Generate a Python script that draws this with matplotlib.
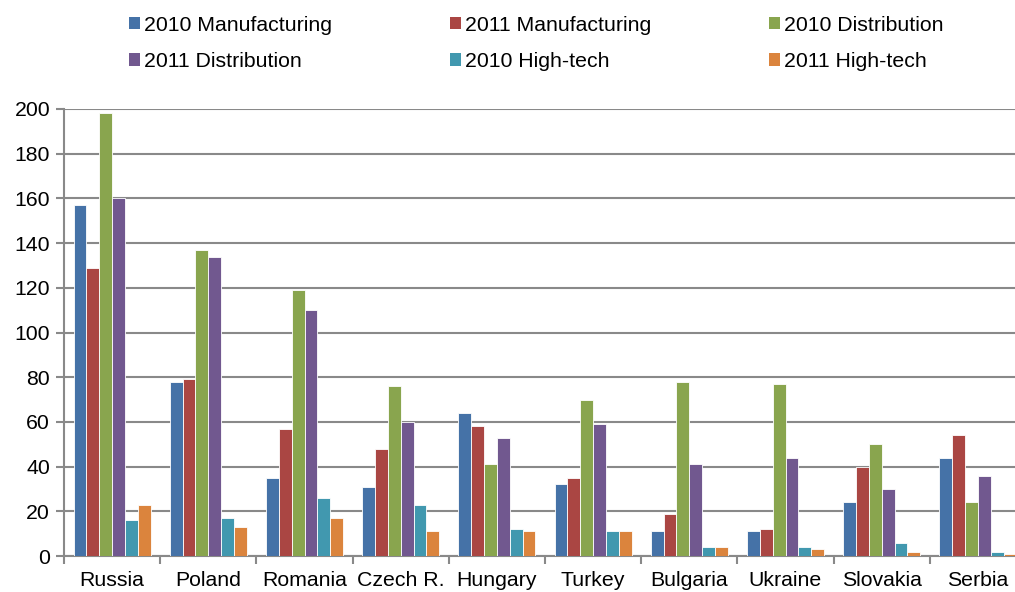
import numpy as np
import matplotlib.pyplot as plt
from matplotlib.patches import Patch

plt.rcParams['font.family'] = ['Liberation Sans', 'DejaVu Sans']

countries = ['Russia', 'Poland', 'Romania', 'Czech R.', 'Hungary', 'Turkey',
             'Bulgaria', 'Ukraine', 'Slovakia', 'Serbia']

manuf_2010 = [157, 78, 35, 31, 64, 32, 11, 11, 24, 44]
manuf_2011 = [129, 79, 57, 48, 58, 35, 19, 12, 40, 54]
distr_2010 = [198, 137, 119, 76, 41, 70, 78, 77, 50, 24]
distr_2011 = [160, 134, 110, 60, 53, 59, 41, 44, 30, 36]
htech_2010 = [16, 17, 26, 23, 12, 11, 4, 4, 6, 2]
htech_2011 = [23, 13, 17, 11, 11, 11, 4, 3, 2, 1]

series = [manuf_2010, manuf_2011, distr_2010, distr_2011, htech_2010, htech_2011]
names = ['2010 Manufacturing', '2011 Manufacturing', '2010 Distribution',
         '2011 Distribution', '2010 High-tech', '2011 High-tech']
colors = ['#4572A7', '#AA4643', '#89A54E', '#71588F', '#4198AF', '#DB843D']

fs = 15.3

fig = plt.figure(figsize=(10.15, 5.92), dpi=100)
# plot area runs a little past the right edge of the figure
ax = fig.add_axes([64 / 1015, 36 / 592, 962 / 1015, 447 / 592])

x = np.arange(len(countries))
w = 0.8 / 6
for i, vals in enumerate(series):
    ax.bar(x - 0.4 + w * (i + 0.5), vals, width=w, color=colors[i],
           edgecolor='white', linewidth=0.6, zorder=3)

ax.set_xlim(-0.5, len(countries) - 0.5)
ax.set_ylim(0, 200)
ax.set_yticks(range(0, 201, 20))
ax.yaxis.grid(True, color='#898989', linewidth=1.5, zorder=0)

ax.set_xticks(x)
ax.set_xticklabels(countries, fontsize=fs)
ax.set_xticks(np.arange(-0.5, len(countries), 1), minor=True)
ax.tick_params(axis='x', which='major', length=0, pad=11)
ax.tick_params(axis='x', which='minor', length=6, width=1.5, color='#898989')
ax.tick_params(axis='y', length=6, width=1.5, color='#898989', labelsize=fs, pad=4)

for side in ['top', 'right']:
    ax.spines[side].set_visible(False)
for side in ['left', 'bottom']:
    ax.spines[side].set_color('#898989')
    ax.spines[side].set_linewidth(1.5)

# legend: three columns, filled row by row
handles = [Patch(facecolor=c) for c in colors]
order = [0, 3, 1, 4, 2, 5]
fig.legend([handles[k] for k in order], [names[k] for k in order],
           ncol=3, loc='upper left', bbox_to_anchor=(118 / 1015, 1 - 5 / 592),
           frameon=False, fontsize=fs, borderpad=0, handlelength=0.52,
           handleheight=0.52, handletextpad=0.19, columnspacing=5.55,
           labelspacing=0.82)

fig.savefig('out.png', dpi=100)
